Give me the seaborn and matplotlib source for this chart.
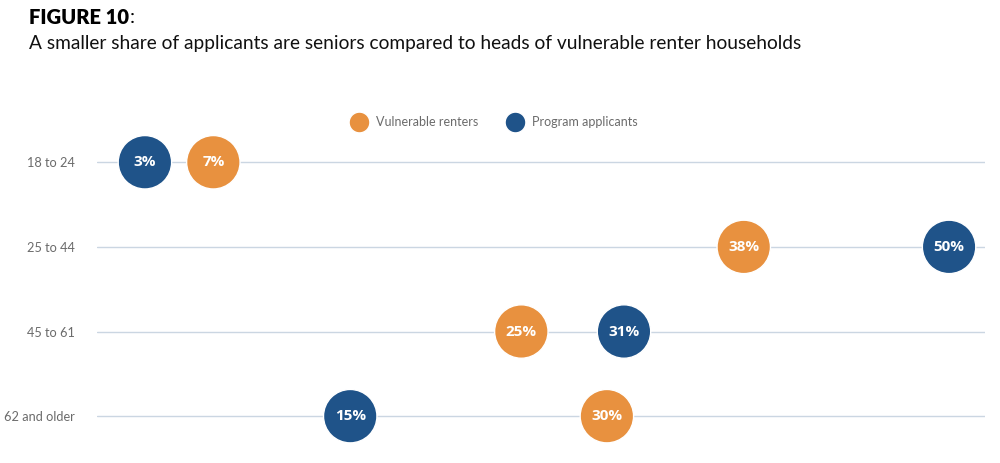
import pandas as pd
import seaborn as sns
import matplotlib.pyplot as plt

# values
age_groups = ["18 to 24", "25 to 44", "45 to 61", "62 and older"]
vulnerable_renters = [7, 38, 25, 30]
program_applicants = [3, 50, 31, 15]
series_names = ["Vulnerable renters", "Program applicants"]

ORANGE = "#E8913F"
BLUE = "#1F5389"
GRID = "#CBD6E2"
GRAY = "#6B6B6B"

df = pd.DataFrame({
    "age": age_groups * 2,
    "share": vulnerable_renters + program_applicants,
    "group": [series_names[0]] * len(age_groups) + [series_names[1]] * len(age_groups),
})

sns.set_theme(style="white")
plt.rcParams["font.family"] = ["Lato", "DejaVu Sans"]

fig = plt.figure(figsize=(10, 4.63), dpi=100)
ax = fig.add_axes([0.097, 0.039, 0.888, 0.680])

sns.scatterplot(data=df, x="share", y="age", hue="group",
                hue_order=series_names, palette=[ORANGE, BLUE],
                s=1480, edgecolor="white", linewidth=1, zorder=3,
                legend=False, ax=ax)

# percentage labels inside the bubbles
for _, row in df.iterrows():
    ax.text(row["share"], age_groups.index(row["age"]), f"{row['share']}%",
            ha="center", va="center", color="white", fontsize=11,
            fontweight="bold", family=["Open Sans", "DejaVu Sans"], zorder=4)

ax.set_xlim(0.2, 52.1)
ax.set_ylim(3.34, -0.38)
ax.set_xticks([])
ax.set_xlabel("")
ax.set_ylabel("")
for sp in ax.spines.values():
    sp.set_visible(False)
ax.tick_params(axis="y", length=0, pad=16, labelsize=9.2, labelcolor=GRAY)
for i in range(len(age_groups)):
    ax.axhline(i, color=GRID, linewidth=1, zorder=1)

# legend
handles = [plt.Line2D([], [], marker="o", linestyle="", markersize=15,
                      markerfacecolor=c, markeredgecolor="white")
           for c in (ORANGE, BLUE)]
fig.legend(handles, series_names, loc="center", bbox_to_anchor=(0.492, 0.736),
           ncol=2, frameon=False, fontsize=9, labelcolor=GRAY,
           handletextpad=0.3, columnspacing=2.0)

# title
title = fig.text(0.029, 0.963, "FIGURE 10", fontsize=14.5, fontweight="heavy",
                 color="black", va="center")
fig.canvas.draw()
bb = title.get_window_extent().transformed(fig.transFigure.inverted())
fig.text(bb.x1 + 0.001, 0.963, ":", fontsize=14.5, color="black", va="center")
fig.text(0.029, 0.907,
         "A smaller share of applicants are seniors compared to heads of vulnerable renter households",
         fontsize=13.75, color="#111111", va="center")

fig.savefig("out.png", dpi=100)
